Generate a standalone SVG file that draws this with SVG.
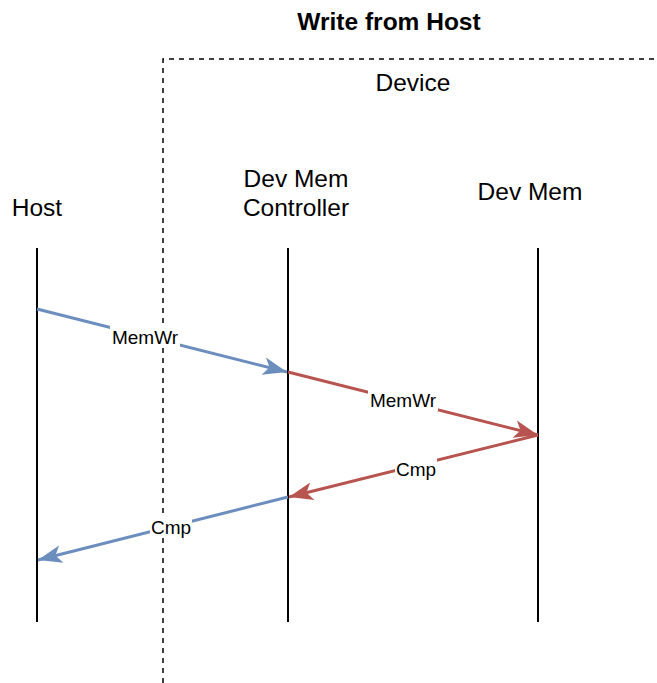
<svg xmlns="http://www.w3.org/2000/svg" width="657" height="683" viewBox="0 0 657 683">
<style>
text{font-family:"Liberation Sans",Arial,sans-serif;fill:#000}
.t{font-size:24.5px;text-anchor:middle}
.l{font-size:19px;text-anchor:middle}
.life{stroke:#000;stroke-width:2;fill:none}
.b{stroke:#6c8ebf;stroke-width:3;fill:none}
.r{stroke:#b85450;stroke-width:3;fill:none}
.bg{fill:#fff}
</style>
<defs>
<marker id="ab" viewBox="-26 -15 30 30" refX="0" refY="0" markerWidth="30" markerHeight="30" markerUnits="userSpaceOnUse" orient="auto">
<path d="M-24,-9 L0,0 L-24,9 L-18,0 Z" fill="#6c8ebf"/>
</marker>
<marker id="ar" viewBox="-26 -15 30 30" refX="0" refY="0" markerWidth="30" markerHeight="30" markerUnits="userSpaceOnUse" orient="auto">
<path d="M-24,-9 L0,0 L-24,9 L-18,0 Z" fill="#b85450"/>
</marker>
</defs>
<rect width="657" height="683" fill="#fff"/>
<text x="389" y="30" class="t" font-weight="bold" font-size="24px">Write from Host</text>
<g id="device">
<path d="M163,683 V59 H657" fill="none" stroke="#000" stroke-width="1.5" stroke-dasharray="5,5"/>
<text x="413" y="91" class="t">Device</text>
</g>
<g id="host">
<text x="37" y="216" class="t">Host</text>
<line x1="37" y1="248" x2="37" y2="622" class="life"/>
</g>
<g id="controller">
<text x="296" y="187" class="t">Dev Mem</text>
<text x="296" y="216" class="t">Controller</text>
<line x1="288" y1="248" x2="288" y2="622" class="life"/>
</g>
<g id="devmem">
<text x="530" y="200" class="t">Dev Mem</text>
<line x1="538" y1="248" x2="538" y2="622" class="life"/>
</g>
<g id="connectors">
<line x1="37" y1="309" x2="287" y2="372" class="b" marker-end="url(#ab)"/>
<line x1="288" y1="372" x2="538" y2="435" class="r" marker-end="url(#ar)"/>
<line x1="538" y1="435" x2="289" y2="497" class="r" marker-end="url(#ar)"/>
<line x1="288" y1="497" x2="38" y2="560" class="b" marker-end="url(#ab)"/>
<rect x="110" y="326" width="70" height="22" class="bg"/>
<text x="145" y="344" class="l">MemWr</text>
<rect x="368" y="389" width="70" height="22" class="bg"/>
<text x="403" y="407" class="l">MemWr</text>
<rect x="395" y="458" width="42" height="22" class="bg"/>
<text x="416" y="476" class="l">Cmp</text>
<rect x="150" y="516" width="42" height="22" class="bg"/>
<text x="171" y="534" class="l">Cmp</text>
</g>
</svg>
